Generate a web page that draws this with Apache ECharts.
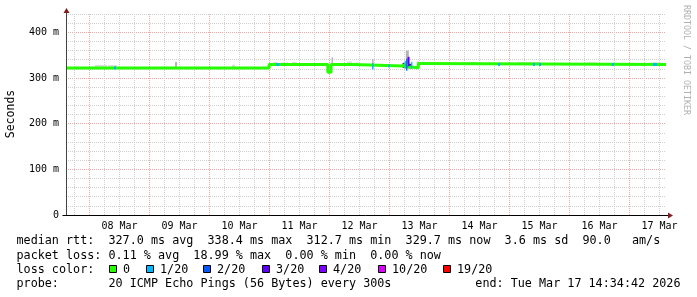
<!DOCTYPE html>
<html><head><meta charset="utf-8">
<script src="https://cdn.jsdelivr.net/npm/echarts@6/dist/echarts.min.js"></script>
<style>html,body{margin:0;padding:0;background:#fff}#c{width:697px;height:297px}</style>
</head><body><div id="c"></div>
<script>
// ---- time frame: hours since 2026-03-07 00:00 ----
const START_H = 14 + 34/60 + 42/3600;   // Sat Mar 07 14:34:42
const END_H = START_H + 240;             // Tue Mar 17 14:34:42
const Y_MAX = 440;

// ---- tick labels ----
const xLabelHours = [36, 60, 84, 108, 132, 156, 180, 204, 228, 252];
const xLabels = ['08 Mar','09 Mar','10 Mar','11 Mar','12 Mar','13 Mar','14 Mar','15 Mar','16 Mar','17 Mar'];
const yLabelValues = [0, 100, 200, 300, 400];
const yLabels = ['0', '100 m', '200 m', '300 m', '400 m'];

// ---- median rtt (ms), step held until next point ----
const medianHours  = [START_H, 95.8, 119.3, 120.6, 129.4, 149.4, 150.4, 152.3, 155.5, 156.4, END_H];
const medianValues = [322.0,   329.5, 312.7, 329.5, 326.3, 329.0, 324.0, 322.5, 331.6, 329.6, 329.7];

// ---- smoke (ping spread): hour, low ms, high ms, duration h, density level ----
const smokeHours  = [28.6, 33.2, 58.6, 81.6, 95.7, 98.2, 102.0, 106.0, 119.25, 120.6, 121.1, 128.0, 131.0, 137.3, 149.6, 151.1, 152.2, 155.4, 177.6, 199.6, 225.0, 250.8];
const smokeLow    = [322, 322, 322, 322, 320, 329.5, 329.5, 329.5, 312, 312, 329.5, 329.5, 326.3, 329, 322, 330, 321, 331, 329.6, 329.6, 329.6, 329.6];
const smokeHigh   = [328.5, 328, 335, 329, 324, 335, 334, 335, 330, 330, 345, 336, 334, 341.6, 333, 360, 331, 336, 335, 335, 334, 334];
const smokeDur    = [4.8, 3.6, 0.8, 1.2, 0.4, 1.5, 3.0, 2.0, 0.4, 0.4, 0.6, 2.0, 1.6, 0.6, 0.8, 1.2, 1.2, 0.6, 5.0, 9.0, 4.0, 5.0];
const smokeLevel  = [0, 0, 1, 0, 2, 0, 0, 0, 2, 2, 1, 0, 0, 1, 2, 1, 2, 1, 0, 0, 0, 0];

// ---- packet-loss coloured median pieces: hour, low ms, high ms, duration h, loss class ----
const lossHours = [34.2, 99.3, 137.3, 143.8, 150.3, 150.9, 151.6, 152.9, 187.8, 201.8, 204.2, 233.3, 250.2];
const lossLow   = [322, 329.5, 322, 326.3, 324, 319, 329, 324, 329.6, 329.6, 329.6, 329.6, 329.6];
const lossHigh  = [322, 329.5, 329, 326.3, 334, 339, 343, 332, 329.6, 329.6, 329.6, 329.6, 329.6];
const lossDur   = [0.8, 1.2, 0.6, 0.6, 0.5, 0.5, 0.8, 0.5, 0.8, 0.8, 0.8, 0.8, 1.6];
const lossClass = [1, 1, 1, 1, 1, 2, 3, 1, 1, 1, 1, 1, 1];

// ---- legend ----
const lossNames  = ['0', '1/20', '2/20', '3/20', '4/20', '10/20', '19/20'];
const lossColors = ['#26ff00', '#00b8ff', '#0059ff', '#5e00ff', '#7e00ff', '#dd00ff', '#ff0000'];
const smokeColors = ['#dcdcdc', '#b4b4b4', '#303030'];

const statLines = [
  'median rtt:  327.0 ms avg  338.4 ms max  312.7 ms min  329.7 ms now  3.6 ms sd  90.0   am/s',
  'packet loss: 0.11 % avg  18.99 % max  0.00 % min  0.00 % now',
  'loss color:',
  'probe:       20 ICMP Echo Pings (56 Bytes) every 300s'
];
const endText = 'end: Tue Mar 17 14:34:42 2026';

// ---- grid positions (derived) ----
const xMajor = [], xMinor = [];
for (let h = 0; h <= 264; h += 6) {
  if (h < START_H || h > END_H) continue;
  if (h % 24 === 0) xMajor.push(h); else xMinor.push(h);
}
const yMinor = [];
for (let v = 20; v <= Y_MAX; v += 20) if (v % 100 !== 0) yMinor.push(v);

const MONO = 'DejaVu Sans Mono';
const MINOR_GRID = '#d0d0d0';
const MAJOR_GRID = '#eaa8a8';
const chart = echarts.init(document.getElementById('c'), null, {renderer: 'canvas'});

const baseX = {type: 'value', min: START_H, max: END_H, position: 'bottom',
  axisLine: {show: false}, axisTick: {show: false}, axisLabel: {show: false}, splitLine: {show: false}};
const baseY = {type: 'value', min: 0, max: Y_MAX, position: 'left',
  axisLine: {show: false}, axisTick: {show: false}, axisLabel: {show: false}, splitLine: {show: false}};

function rectItem(getColor) {
  return function (params, api) {
    const t = api.value(0), lo = api.value(1), hi = api.value(2), d = api.value(3), lv = api.value(4);
    const p0 = api.coord([t - d / 2, hi]);
    const p1 = api.coord([t + d / 2, lo]);
    const pad = getColor.pad || 0;
    return {
      type: 'rect',
      shape: {x: p0[0], y: p0[1] - pad, width: Math.max(1, p1[0] - p0[0]), height: (p1[1] - p0[1]) + 2 * pad},
      style: {fill: getColor(lv)}
    };
  };
}
const smokeColorFn = lv => smokeColors[lv];
const lossColorFn = lv => lossColors[lv];
lossColorFn.pad = 1.5;

chart.setOption({
  animation: false,
  backgroundColor: '#ffffff',
  grid: {left: 66, top: 14, width: 600, height: 201, containLabel: false},
  xAxis: [
    Object.assign({}, baseX, {axisTick: {show: false, customValues: xMinor},
      splitLine: {show: true, lineStyle: {color: MINOR_GRID, width: 1, type: [1, 1]}}}),
    Object.assign({}, baseX, {axisTick: {show: false, customValues: xMajor},
      splitLine: {show: true, lineStyle: {color: MAJOR_GRID, width: 1, type: [1, 1]}}}),
    Object.assign({}, baseX, {axisLabel: {show: true, customValues: xLabelHours, margin: 6,
      fontFamily: MONO, fontSize: 10, color: '#000',
      formatter: v => xLabels[xLabelHours.indexOf(v)] || ''}})
  ],
  yAxis: [
    Object.assign({}, baseY, {axisTick: {show: false, customValues: yMinor},
      splitLine: {show: true, lineStyle: {color: MINOR_GRID, width: 1, type: [1, 1]}}}),
    Object.assign({}, baseY, {axisTick: {show: false, customValues: yLabelValues},
      axisLabel: {show: true, customValues: yLabelValues, margin: 7, fontFamily: MONO, fontSize: 10, color: '#000',
        formatter: v => yLabels[yLabelValues.indexOf(v)]},
      splitLine: {show: true, lineStyle: {color: MAJOR_GRID, width: 1, type: [1, 1]}}})
  ],
  series: [
    {type: 'custom', name: 'smoke', xAxisIndex: 0, yAxisIndex: 0, z: 2, clip: true,
      renderItem: rectItem(smokeColorFn),
      data: smokeHours.map((h, i) => [h, smokeLow[i], smokeHigh[i], smokeDur[i], smokeLevel[i]])},
    {type: 'line', name: 'median', xAxisIndex: 0, yAxisIndex: 0, z: 3, step: 'end',
      symbol: 'none', lineStyle: {color: lossColors[0], width: 3},
      data: medianHours.map((h, i) => [h, medianValues[i]])},
    {type: 'custom', name: 'loss', xAxisIndex: 0, yAxisIndex: 0, z: 4, clip: true,
      renderItem: rectItem(lossColorFn),
      data: lossHours.map((h, i) => [h, lossLow[i], lossHigh[i], lossDur[i], lossClass[i]])}
  ]
});

// ---- axes with arrows, texts, legend ----
const o = chart.convertToPixel({xAxisIndex: 0, yAxisIndex: 0}, [START_H, 0]);
const e = chart.convertToPixel({xAxisIndex: 0, yAxisIndex: 0}, [END_H, Y_MAX]);
const ox = Math.round(o[0]) + 0.5, oy = Math.round(o[1]) + 0.5;
const ex = Math.round(e[0]), ey = Math.round(e[1]);
const ARROW = '#7f1f1f';
const g = [];
g.push({type: 'line', shape: {x1: ox, y1: oy, x2: ox, y2: ey - 1}, style: {stroke: '#444', lineWidth: 1}, z: 10});
g.push({type: 'line', shape: {x1: ox - 4, y1: oy, x2: ex + 2, y2: oy}, style: {stroke: '#000', lineWidth: 1}, z: 10});
g.push({type: 'polygon', shape: {points: [[ex + 2, oy - 3], [ex + 2, oy + 3], [ex + 7, oy]]}, style: {fill: ARROW}, z: 11});
g.push({type: 'polygon', shape: {points: [[ox - 3, ey - 1], [ox + 3, ey - 1], [ox, ey - 6]]}, style: {fill: ARROW}, z: 11});

// y axis title
g.push({type: 'text', x: 11, y: 114, rotation: Math.PI / 2,
  style: {text: 'Seconds', font: '11.5px ' + MONO, fill: '#000', align: 'center', verticalAlign: 'middle'}});
// watermark
g.push({type: 'text', x: 686.5, y: 60, rotation: -Math.PI / 2,
  style: {text: 'RRDTOOL / TOBI OETIKER', font: '8.3px ' + MONO, fill: '#b0b0b0', align: 'center', verticalAlign: 'middle'}});

const lineY = [241.2, 255.6, 270.0, 284.4];
statLines.forEach((t, i) => {
  g.push({type: 'text', x: 16.5, y: lineY[i],
    style: {text: t, font: '11.75px ' + MONO, fill: '#000', align: 'left', verticalAlign: 'middle'}});
});
g.push({type: 'text', x: 680.5, y: lineY[3],
  style: {text: endText, font: '11.75px ' + MONO, fill: '#000', align: 'right', verticalAlign: 'middle'}});

const squareX = [109, 146, 203, 262, 319, 378, 443];
lossNames.forEach((n, i) => {
  g.push({type: 'rect', shape: {x: squareX[i] + 0.5, y: 265.5, width: 7, height: 7},
    style: {fill: lossColors[i], stroke: '#000', lineWidth: 1}});
  g.push({type: 'text', x: squareX[i] + 14, y: lineY[2],
    style: {text: n, font: '11.75px ' + MONO, fill: '#000', align: 'left', verticalAlign: 'middle'}});
});

chart.setOption({graphic: {elements: g}});
</script>
</body></html>
